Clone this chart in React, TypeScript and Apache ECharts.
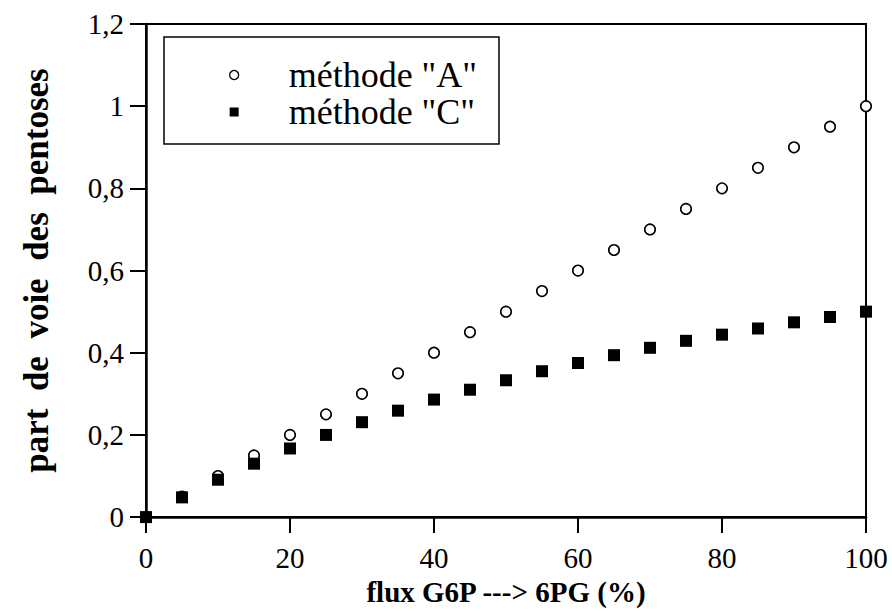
import React, { useEffect, useRef } from "react";
import * as echarts from "echarts";

const xValues = [0, 5, 10, 15, 20, 25, 30, 35, 40, 45, 50, 55, 60, 65, 70, 75, 80, 85, 90, 95, 100];
const methodA = [0, 0.05, 0.1, 0.15, 0.2, 0.25, 0.3, 0.35, 0.4, 0.45, 0.5, 0.55, 0.6, 0.65, 0.7, 0.75, 0.8, 0.85, 0.9, 0.95, 1.0];
const methodC = [0, 0.048, 0.091, 0.13, 0.167, 0.2, 0.231, 0.259, 0.286, 0.31, 0.333, 0.355, 0.375, 0.394, 0.412, 0.429, 0.444, 0.459, 0.474, 0.487, 0.5];
const seriesNames = ['méthode "A"', 'méthode "C"'];
const xTitle = "flux G6P ---> 6PG (%)";
const yTitle = "part  de  voie  des  pentoses";

const FONT = "'Liberation Serif', 'DejaVu Serif', serif";

export default function App() {
  const ref = useRef<HTMLDivElement>(null);
  useEffect(() => {
    if (!ref.current) return;
    const chart = echarts.init(ref.current, null, { renderer: "svg" });
    chart.setOption({
      animation: false,
      backgroundColor: "#fff",
      grid: {
        left: 146,
        right: 26,
        top: 24,
        bottom: 92,
        show: true,
        borderColor: "#000",
        borderWidth: 2,
      },
      legend: {
        orient: "vertical",
        left: 164,
        top: 37,
        borderColor: "#000",
        borderWidth: 1.5,
        padding: [20, 22, 14, 65],
        itemWidth: 9,
        itemHeight: 9,
        itemGap: 1,
        selectedMode: false,
        textStyle: {
          fontFamily: FONT,
          fontSize: 36,
          color: "#000",
          lineHeight: 34,
          padding: [0, 0, 0, 45],
        },
        data: [
          { name: seriesNames[0], icon: "circle", itemStyle: { color: "#fff", borderColor: "#000", borderWidth: 1.3 } },
          { name: seriesNames[1], icon: "rect", itemStyle: { color: "#000" } },
        ],
      },
      xAxis: {
        type: "value",
        min: 0,
        max: 100,
        interval: 20,
        name: xTitle,
        nameLocation: "middle",
        nameGap: 46,
        nameTextStyle: { fontFamily: FONT, fontSize: 29, fontWeight: "bold", color: "#000" },
        axisLine: { lineStyle: { color: "#000", width: 2.5 } },
        axisTick: { show: true, inside: false, length: 16, lineStyle: { color: "#000", width: 2 } },
        axisLabel: { margin: 26, fontFamily: FONT, fontSize: 29, color: "#000" },
        splitLine: { show: false },
      },
      yAxis: {
        type: "value",
        min: 0,
        max: 1.2,
        interval: 0.2,
        name: yTitle,
        nameLocation: "middle",
        nameGap: 92,
        nameRotate: 90,
        nameTextStyle: { fontFamily: FONT, fontSize: 35, fontWeight: "bold", color: "#000" },
        axisLine: { lineStyle: { color: "#000", width: 2.5 } },
        axisTick: { show: true, inside: false, length: 16, lineStyle: { color: "#000", width: 2 } },
        axisLabel: {
          margin: 22,
          fontFamily: FONT,
          fontSize: 29,
          color: "#000",
          formatter: (v: number) => String(Math.round(v * 10) / 10).replace(".", ","),
        },
        splitLine: { show: false },
      },
      series: [
        {
          name: seriesNames[0],
          type: "scatter",
          symbol: "circle",
          symbolSize: 10.5,
          itemStyle: { color: "#fff", borderColor: "#000", borderWidth: 1.6, opacity: 1 },
          data: xValues.map((x, i) => [x, methodA[i]]),
          z: 2,
        },
        {
          name: seriesNames[1],
          type: "scatter",
          symbol: "rect",
          symbolSize: 12,
          itemStyle: { color: "#000", opacity: 1 },
          data: xValues.map((x, i) => [x, methodC[i]]),
          z: 3,
        },
      ],
    });
    return () => chart.dispose();
  }, []);
  return <div ref={ref} style={{ width: 892, height: 611, position: "absolute", left: 0, top: 0 }} />;
}
